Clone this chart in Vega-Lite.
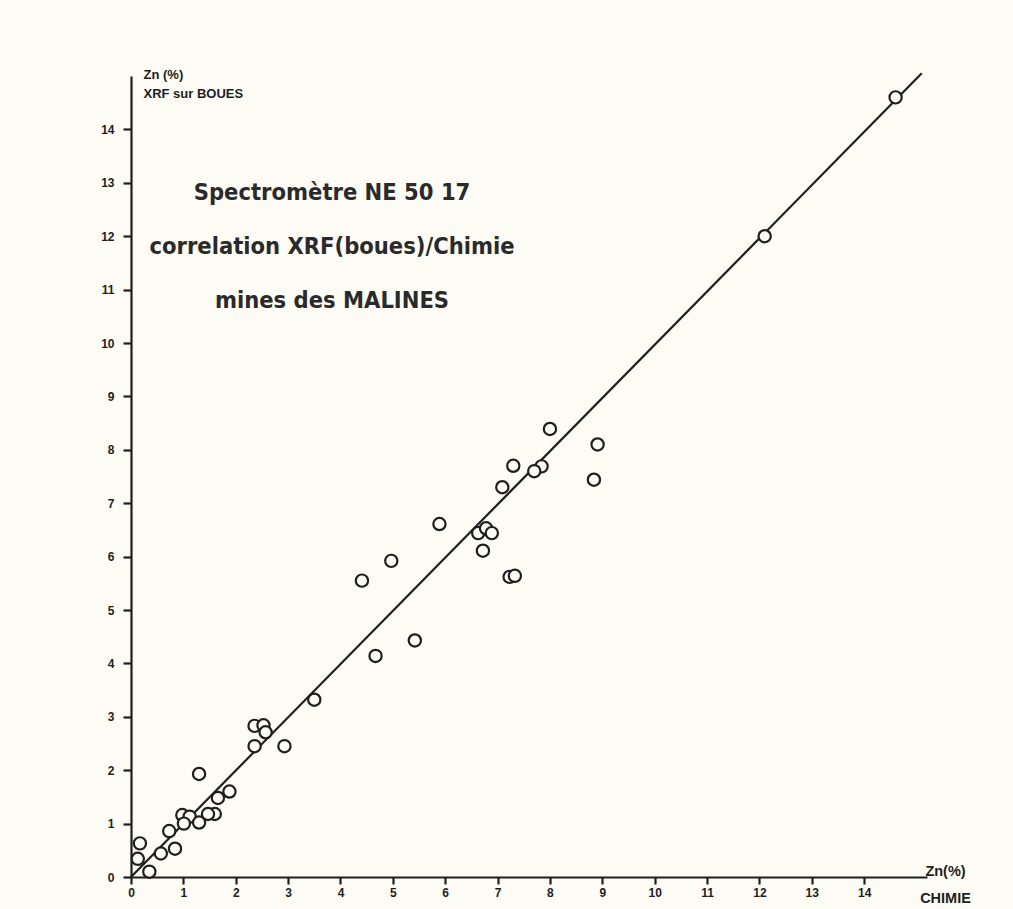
{
  "$schema": "https://vega.github.io/schema/vega-lite/v6.json",
  "autosize": {"type": "none"},
  "padding": {"left": 131, "top": 76, "right": 86, "bottom": 32},
  "width": 796,
  "height": 801,
  "background": "#fcfcf5",
  "title": {
    "text": ["Spectromètre NE 50 17", "correlation XRF(boues)/Chimie", "mines des MALINES"],
    "font": "DejaVu Sans Condensed, DejaVu Sans, sans-serif",
    "fontWeight": "bold",
    "fontSize": 23.5,
    "color": "#2a2a2a",
    "lineHeight": 54,
    "anchor": "start",
    "align": "center",
    "baseline": "top",
    "frame": "group",
    "offset": 0,
    "dx": 201,
    "dy": 244
  },
  "datasets": {
    "points": [
      {"chimie": 14.6, "xrf": 14.6},
      {"chimie": 12.1, "xrf": 12.0},
      {"chimie": 8.0, "xrf": 8.39},
      {"chimie": 8.91, "xrf": 8.1},
      {"chimie": 8.84, "xrf": 7.44},
      {"chimie": 7.84, "xrf": 7.69},
      {"chimie": 7.7, "xrf": 7.6},
      {"chimie": 7.3, "xrf": 7.7},
      {"chimie": 7.09, "xrf": 7.3},
      {"chimie": 5.89, "xrf": 6.61},
      {"chimie": 6.63, "xrf": 6.44},
      {"chimie": 6.78, "xrf": 6.53},
      {"chimie": 6.89, "xrf": 6.44},
      {"chimie": 6.72, "xrf": 6.11},
      {"chimie": 7.23, "xrf": 5.62},
      {"chimie": 7.33, "xrf": 5.64},
      {"chimie": 4.97, "xrf": 5.92},
      {"chimie": 4.41, "xrf": 5.55},
      {"chimie": 5.42, "xrf": 4.43},
      {"chimie": 4.67, "xrf": 4.14},
      {"chimie": 3.5, "xrf": 3.32},
      {"chimie": 2.36, "xrf": 2.83},
      {"chimie": 2.53, "xrf": 2.84},
      {"chimie": 2.57, "xrf": 2.71},
      {"chimie": 2.36, "xrf": 2.45},
      {"chimie": 2.93, "xrf": 2.45},
      {"chimie": 1.3, "xrf": 1.93},
      {"chimie": 1.88, "xrf": 1.6},
      {"chimie": 1.66, "xrf": 1.48},
      {"chimie": 1.6, "xrf": 1.18},
      {"chimie": 1.47, "xrf": 1.18},
      {"chimie": 0.98, "xrf": 1.16},
      {"chimie": 1.12, "xrf": 1.13},
      {"chimie": 1.01, "xrf": 1.0},
      {"chimie": 1.3, "xrf": 1.02},
      {"chimie": 0.73, "xrf": 0.86},
      {"chimie": 0.84, "xrf": 0.53},
      {"chimie": 0.57, "xrf": 0.44},
      {"chimie": 0.17, "xrf": 0.63},
      {"chimie": 0.13, "xrf": 0.34},
      {"chimie": 0.35, "xrf": 0.1}
    ],
    "fit": [
      {"chimie": 0, "xrf": 0},
      {"chimie": 15.1, "xrf": 15.05}
    ]
  },
  "encoding": {
    "x": {
      "field": "chimie",
      "type": "quantitative",
      "scale": {"domain": [0, 15.2], "nice": false, "zero": true},
      "axis": {
        "values": [0, 1, 2, 3, 4, 5, 6, 7, 8, 9, 10, 11, 12, 13, 14],
        "title": ["Zn(%)", "CHIMIE"],
        "titleAlign": "center",
        "titleAngle": 0,
        "titleX": 814,
        "titleY": -13,
        "titleBaseline": "top",
        "titleLineHeight": 27,
        "titleFontSize": 14.5
      }
    },
    "y": {
      "field": "xrf",
      "type": "quantitative",
      "scale": {"domain": [0, 15], "nice": false, "zero": true},
      "axis": {
        "values": [0, 1, 2, 3, 4, 5, 6, 7, 8, 9, 10, 11, 12, 13, 14],
        "title": ["Zn (%)", "XRF sur BOUES"],
        "titleAlign": "left",
        "titleAngle": 0,
        "titleX": 12,
        "titleY": -8,
        "titleBaseline": "top",
        "titleLineHeight": 19,
        "titleFontSize": 13,
        "tickSize": 8,
        "labelPadding": 9
      }
    }
  },
  "layer": [
    {
      "data": {"name": "fit"},
      "mark": {"type": "line", "color": "#1e1e1e", "strokeWidth": 2.2}
    },
    {
      "data": {"name": "points"},
      "mark": {
        "type": "point",
        "shape": "circle",
        "size": 150,
        "fill": "#fcfcf5",
        "fillOpacity": 1,
        "stroke": "#1e1e1e",
        "strokeWidth": 2.2,
        "opacity": 1
      }
    }
  ],
  "config": {
    "view": {"stroke": null},
    "axis": {
      "grid": false,
      "domainColor": "#1e1e1e",
      "domainWidth": 2.2,
      "tickColor": "#1e1e1e",
      "tickWidth": 2.2,
      "tickSize": 7,
      "labelFont": "Liberation Sans, Arial, sans-serif",
      "labelFontWeight": "bold",
      "labelFontSize": 12,
      "labelColor": "#1e1e1e",
      "labelFlush": false,
      "labelOverlap": false,
      "labelPadding": 3,
      "titleFont": "Liberation Sans, Arial, sans-serif",
      "titleFontWeight": "bold",
      "titleColor": "#1e1e1e"
    }
  }
}
